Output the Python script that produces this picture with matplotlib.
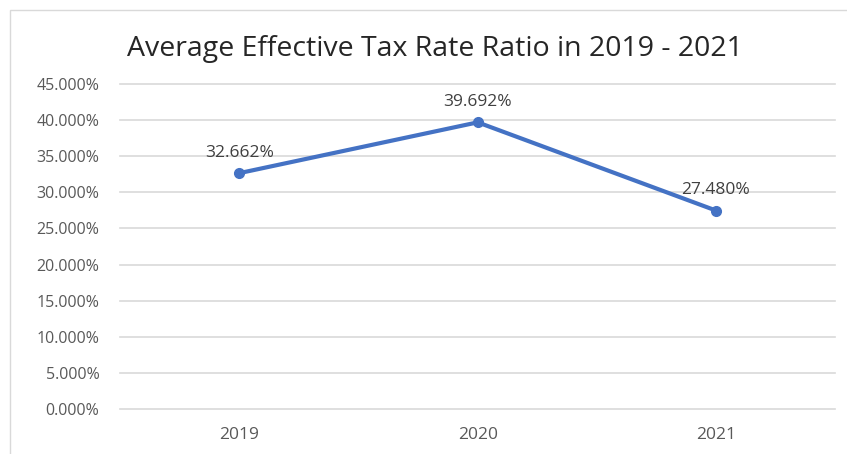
import matplotlib
matplotlib.use("Agg")
import matplotlib.pyplot as plt
from matplotlib.ticker import FuncFormatter, MultipleLocator

# values
years = ["2019", "2020", "2021"]
rates = [32.662, 39.692, 27.480]   # percent

plt.rcParams['font.family'] = ['Open Sans', 'DejaVu Sans']

fig = plt.figure(figsize=(8.47, 4.54), dpi=100)
ax = fig.add_axes([0.142, 0.099, 0.844, 0.716])

# light chart border like the Excel chart frame
fig.patches.append(plt.Rectangle((0.012, -0.02), 0.99, 0.998, transform=fig.transFigure,
                                 fill=False, edgecolor='#d9d9d9', linewidth=1))

x = list(range(len(years)))
ax.plot(x, rates, color='#4472C4', linewidth=3, marker='o', markersize=7, zorder=3)

for xi, v in zip(x, rates):
    ax.annotate(f"{v:.3f}%", (xi, v), textcoords='offset points', xytext=(0, 9),
                ha='center', va='bottom', fontsize=12.5, color='#404040')

ax.set_xlim(-0.5, len(years) - 0.5)
ax.set_ylim(0, 45)
ax.yaxis.set_major_locator(MultipleLocator(5))
ax.yaxis.set_major_formatter(FuncFormatter(lambda v, p: f"{v:.3f}%"))
ax.set_xticks(x)
ax.set_xticklabels(years)

ax.grid(axis='y', color='#d9d9d9', linewidth=1.2)
for gl in ax.get_ygridlines():
    gl.set_clip_on(False)
ax.set_axisbelow(True)
for s in ax.spines.values():
    s.set_visible(False)
ax.tick_params(axis='both', length=0, labelcolor='#595959')
ax.tick_params(axis='y', pad=15, labelsize=11.5)
ax.tick_params(axis='x', pad=13, labelsize=12.5)

fig.text(0.513, 0.893, "Average Effective Tax Rate Ratio in 2019 - 2021",
         ha='center', va='center', fontsize=20.5, color='#262626')

fig.savefig("out.png", dpi=100)
